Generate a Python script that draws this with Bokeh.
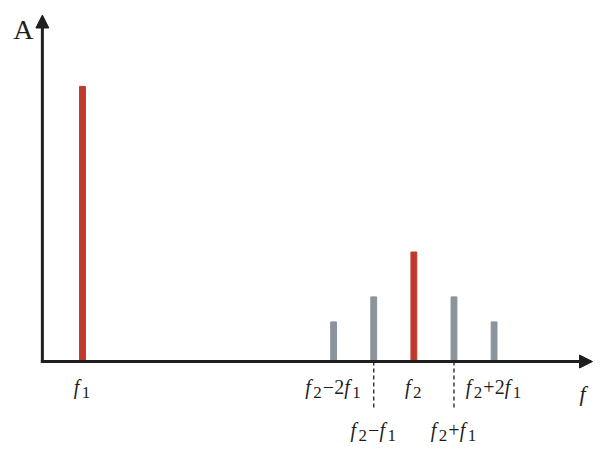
from bokeh.plotting import figure
from bokeh.models import Arrow, NormalHead, ColumnDataSource
from bokeh.core.properties import value
from bokeh.embed import file_html
from bokeh.resources import INLINE

# ---- data (frequencies in units of f1, amplitudes relative to the f1 line) ----
tick_labels = ["f_1", "f_2−2f_1", "f_2−f_1", "f_2", "f_2+f_1", "f_2+2f_1"]
freqs = [1.0, 7.26, 8.26, 9.26, 10.26, 11.26]
amps = [1.0, 0.144, 0.235, 0.398, 0.235, 0.144]
primary = [True, False, False, True, False, False]
label_row = [1, 1, 2, 1, 2, 1]
y_axis_label = "A"
x_axis_label = "f"

RED = "#C0392B"
GRAY = "#8B939B"
INK = "#1E1E1E"
FONT = "Liberation Serif"

W, H = 593, 446
SX, SY = W / 609, H / 462
X0PX, Y0PX = 43 * SX, 374 * SY      # origin inside the frame (pixels)
UX, UY = 41.2 * SX, 285 * SY        # pixels per data unit


def dx(px):
    return (px - X0PX) / UX


def dy(py):
    return (Y0PX - py) / UY


p = figure(width=W, height=H, output_backend="svg", toolbar_location=None,
           x_range=(dx(0), dx(W)), y_range=(dy(H), dy(0)), min_border=0)
p.axis.visible = False
p.grid.visible = False
p.outline_line_color = None
p.background_fill_color = "white"
p.border_fill_color = "white"

# bars
colors = [RED if pr else GRAY for pr in primary]
src = ColumnDataSource(dict(x=freqs, top=amps, color=colors))
p.vbar(x="x", top="top", bottom=0, width=6 * SX / UX, color="color", source=src)

# dashed leader lines for the lower row labels
dash_x = [f for f, r in zip(freqs, label_row) if r == 2]
p.segment(x0=dash_x, y0=[0] * len(dash_x), x1=dash_x, y1=[dy(409)] * len(dash_x),
          line_color=INK, line_width=1.3, line_dash="4 3")

# axes with arrow heads
p.add_layout(Arrow(x_start=0, y_start=dy(Y0PX + 1.5), x_end=0, y_end=dy(14.5),
                   line_width=3, line_color=INK,
                   end=NormalHead(size=13, fill_color=INK, line_color=INK, line_width=1)))
p.add_layout(Arrow(x_start=dx(X0PX - 1.5), y_start=0, x_end=dx(592), y_end=0,
                   line_width=3, line_color=INK,
                   end=NormalHead(size=13, fill_color=INK, line_color=INK, line_width=1)))

# rich tick labels (italic f, upright digits, subscripts)
MAIN, SUB = 20, 17
row_base = {1: 386, 2: 429}
SUB_DROP = 6


def pieces(label):
    out = []
    i = 0
    while i < len(label):
        c = label[i]
        if c == "_":
            out.append((label[i + 1], "sub"))
            i += 2
            continue
        out.append((c, "it" if c.isalpha() else "rm"))
        i += 1
    return out


def width(t, kind):
    if kind == "sub":
        return 9.5
    if kind == "it":
        return 8.0
    if t in "−+":
        return 11.5
    return 10.0


tx, ty, tt, toff, tstyle, tsize = [], [], [], [], [], []
for lab, f, r in zip(tick_labels, freqs, label_row):
    ps = pieces(lab)
    total = sum(width(t, k) for t, k in ps)
    off = -total / 2
    for t, k in ps:
        base = row_base[r] + (SUB_DROP if k == "sub" else 0)
        tx.append(f)
        ty.append(dy(base))
        tt.append(t)
        toff.append(off)
        tstyle.append("italic" if k == "it" else "normal")
        tsize.append(f"{SUB if k == 'sub' else MAIN}px")
        off += width(t, k)

lsrc = ColumnDataSource(dict(x=tx, y=ty, text=tt, off=toff, style=tstyle, size=tsize))
p.text(x="x", y="y", text="text", x_offset="off", text_font_style="style",
       text_font_size="size", text_font=value(FONT), text_align="left",
       text_baseline="alphabetic", text_color=INK, source=lsrc)

# axis names
p.text(x=[dx(582)], y=[dy(393)], text=[x_axis_label], text_font=value(FONT),
       text_font_style="italic", text_font_size="22px", text_align="center",
       text_baseline="alphabetic", text_color=INK)
p.text(x=[dx(22.8)], y=[dy(29.4)], text=[y_axis_label], text_font=value(FONT),
       text_font_style="normal", text_font_size="28px", text_align="center",
       text_baseline="alphabetic", text_color=INK)

open("out.html", "w").write(file_html(p, INLINE))
